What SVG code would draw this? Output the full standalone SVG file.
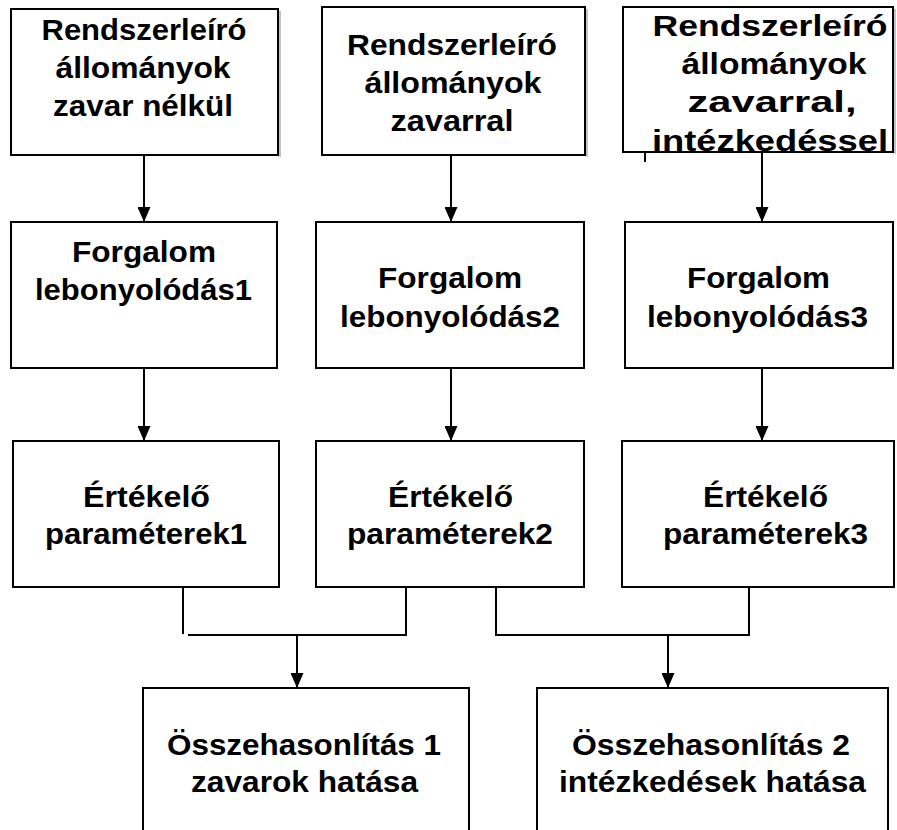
<svg xmlns="http://www.w3.org/2000/svg" width="897" height="830" viewBox="0 0 897 830">
<style>
.box{fill:#fff;stroke:#000;stroke-width:2}
.sh{fill:none;stroke:#888;stroke-width:1}
.t{font-family:"Liberation Sans",Arial,sans-serif;font-weight:bold;font-size:29px;fill:#000;text-anchor:middle}
.t3{font-size:30px}
.c{fill:none;stroke:#000;stroke-width:2}
</style>
<defs>
<marker id="ah" markerWidth="15" markerHeight="13" refX="15" refY="6.5" orient="auto" markerUnits="userSpaceOnUse">
<path d="M0,0 L15,6.5 L0,13 Z" fill="#000"/>
</marker>
</defs>
<rect width="897" height="830" fill="#fff"/>
<g id="connectors">
<line class="c" x1="144" y1="155" x2="144" y2="222" marker-end="url(#ah)"/>
<line class="c" x1="451" y1="155" x2="451" y2="222" marker-end="url(#ah)"/>
<line class="c" x1="762" y1="153" x2="762" y2="222" marker-end="url(#ah)"/>
<line class="c" x1="645" y1="153" x2="645" y2="162"/>
<line class="c" x1="144" y1="368" x2="144" y2="441" marker-end="url(#ah)"/>
<line class="c" x1="451" y1="368" x2="451" y2="441" marker-end="url(#ah)"/>
<line class="c" x1="762" y1="368" x2="762" y2="441" marker-end="url(#ah)"/>
<line class="c" x1="183" y1="587" x2="183" y2="634"/>
<polyline class="c" points="188,635 406,635 406,587"/>
<line class="c" x1="297" y1="635" x2="297" y2="688" marker-end="url(#ah)"/>
<polyline class="c" points="496,587 496,635 749,635 749,587"/>
<line class="c" x1="668" y1="635" x2="668" y2="688" marker-end="url(#ah)"/>
</g>
<g id="n1">
<rect class="box" x="11" y="9" width="267" height="146"/>
<line class="sh" x1="280" y1="11" x2="280" y2="157"/>
<text class="t" x="144" y="40" textLength="205" lengthAdjust="spacingAndGlyphs">Rendszerleíró</text>
<text class="t" x="143" y="78" textLength="175" lengthAdjust="spacingAndGlyphs">állományok</text>
<text class="t" x="143" y="116" textLength="180" lengthAdjust="spacingAndGlyphs">zavar nélkül</text>
</g>
<g id="n2">
<rect class="box" x="322" y="7" width="263" height="148"/>
<line class="sh" x1="587" y1="9" x2="587" y2="157"/>
<text class="t" x="452" y="55" textLength="210" lengthAdjust="spacingAndGlyphs">Rendszerleíró</text>
<text class="t" x="453" y="93" textLength="177" lengthAdjust="spacingAndGlyphs">állományok</text>
<text class="t" x="452" y="131" textLength="123" lengthAdjust="spacingAndGlyphs">zavarral</text>
</g>
<g id="n3">
<rect class="box" x="623" y="7" width="270" height="145"/>
<line class="sh" x1="895" y1="9" x2="895" y2="154"/>
<text class="t t3" x="770" y="36" textLength="235" lengthAdjust="spacingAndGlyphs">Rendszerleíró</text>
<text class="t t3" x="774" y="74" textLength="185" lengthAdjust="spacingAndGlyphs">állományok</text>
<text class="t t3" x="772" y="112" textLength="169" lengthAdjust="spacingAndGlyphs">zavarral,</text>
<text class="t t3" x="770" y="151" textLength="236" lengthAdjust="spacingAndGlyphs">intézkedéssel</text>
</g>
<g id="n4">
<rect class="box" x="11" y="222" width="266" height="146"/>
<text class="t" x="144" y="262" textLength="144" lengthAdjust="spacingAndGlyphs">Forgalom</text>
<text class="t" x="143.5" y="300" textLength="217" lengthAdjust="spacingAndGlyphs">lebonyolódás1</text>
</g>
<g id="n5">
<rect class="box" x="316" y="222" width="268" height="146"/>
<text class="t" x="450" y="288" textLength="144" lengthAdjust="spacingAndGlyphs">Forgalom</text>
<text class="t" x="450" y="327" textLength="220" lengthAdjust="spacingAndGlyphs">lebonyolódás2</text>
</g>
<g id="n6">
<rect class="box" x="625" y="222" width="268" height="146"/>
<text class="t" x="758.5" y="288" textLength="143" lengthAdjust="spacingAndGlyphs">Forgalom</text>
<text class="t" x="757.5" y="327" textLength="221" lengthAdjust="spacingAndGlyphs">lebonyolódás3</text>
</g>
<g id="n7">
<rect class="box" x="13" y="441" width="266" height="146"/>
<text class="t" x="146.5" y="507" textLength="127" lengthAdjust="spacingAndGlyphs">Értékelő</text>
<text class="t" x="146" y="544" textLength="202" lengthAdjust="spacingAndGlyphs">paraméterek1</text>
</g>
<g id="n8">
<rect class="box" x="316" y="441" width="268" height="146"/>
<text class="t" x="450.5" y="507" textLength="125" lengthAdjust="spacingAndGlyphs">Értékelő</text>
<text class="t" x="450" y="544" textLength="206" lengthAdjust="spacingAndGlyphs">paraméterek2</text>
</g>
<g id="n9">
<rect class="box" x="622" y="441" width="272" height="146"/>
<text class="t" x="765.5" y="507" textLength="125" lengthAdjust="spacingAndGlyphs">Értékelő</text>
<text class="t" x="765.5" y="544" textLength="205" lengthAdjust="spacingAndGlyphs">paraméterek3</text>
</g>
<g id="n10">
<path class="box" d="M143,832 L143,688 L469,688 L469,832"/>
<text class="t" x="304" y="755" textLength="274" lengthAdjust="spacingAndGlyphs">Összehasonlítás 1</text>
<text class="t" x="304.5" y="792" textLength="227" lengthAdjust="spacingAndGlyphs">zavarok hatása</text>
</g>
<g id="n11">
<path class="box" d="M537,832 L537,688 L888,688 L888,832"/>
<text class="t" x="711" y="755" textLength="278" lengthAdjust="spacingAndGlyphs">Összehasonlítás 2</text>
<text class="t" x="712.5" y="792" textLength="307" lengthAdjust="spacingAndGlyphs">intézkedések hatása</text>
</g>
</svg>
